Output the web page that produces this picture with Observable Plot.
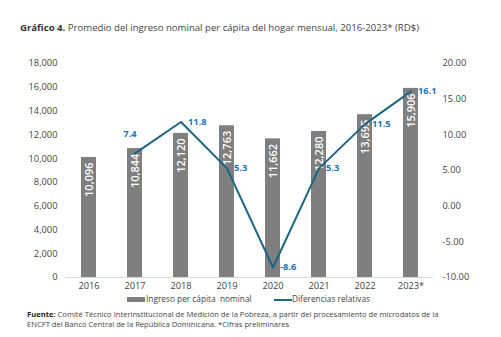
<!DOCTYPE html>
<html><head><meta charset="utf-8">
<script src="https://cdn.jsdelivr.net/npm/d3@7"></script>
<script src="https://cdn.jsdelivr.net/npm/@observablehq/plot@0.6"></script>
<style>
body{margin:0;background:#fff;font-family:"Open Sans",sans-serif;width:501px;height:337px;overflow:hidden;position:relative}
#title{position:absolute;left:20px;top:21px;font-size:9.6px;color:#444;white-space:nowrap}
#chart{position:absolute;left:0;top:50px}
#legend{position:absolute;top:293px;left:0;width:501px;font-size:8.3px;color:#444}
#legend span{position:absolute;white-space:nowrap}
#foot{position:absolute;left:27px;top:309px;font-size:7.6px;line-height:10px;color:#444}
</style></head><body>
<div id="title"><b style="color:#333">Gráfico 4.</b> Promedio del ingreso nominal per cápita del hogar mensual, 2016-2023* (RD$)</div>
<div id="chart"></div>
<div id="legend">
<span style="left:127px;top:4px;width:18px;height:5px;background:#7f7f7f"></span>
<span style="left:146px;top:0">Ingreso per cápita &nbsp;nominal</span>
<span style="left:274px;top:6px;width:18px;height:2px;background:#1d6a85"></span>
<span style="left:292px;top:0">Diferencias relativas</span>
</div>
<div id="foot"><b style="color:#222">Fuente:</b> Comité Técnico Interinstitucional de Medición de la Pobreza, a partir del procesamiento de microdatos de la<br>ENCFT del Banco Central de la República Dominicana. *Cifras preliminares</div>
<script>
const years = ["2016","2017","2018","2019","2020","2021","2022","2023*"];
const ingreso = [10096,10844,12120,12763,11662,12280,13695,15906];
const diferencias = [null,7.4,11.8,5.3,-8.6,5.3,11.5,16.1];
const leftTicks = [0,2000,4000,6000,8000,10000,12000,14000,16000,18000];
const rightTicks = [-10,-5,0,5,10,15,20];

const toY = v => (v + 10) / 30 * 18000;
const fromY = y => y / 18000 * 30 - 10;

const bars = years.map((y,i)=>({year:y, value:ingreso[i]}));
const line = years.map((y,i)=>({year:y, d:diferencias[i]})).filter(d=>d.d!==null);
const labAbove = line.filter(d => d.year === "2017");
const labRight = line.filter(d => d.year !== "2017");

const plot = Plot.plot({
  width: 501, height: 245,
  marginTop: 13, marginBottom: 18, marginLeft: 65, marginRight: 68,
  style: {fontFamily: "Open Sans, sans-serif", fontSize: "9.3px", color: "#444"},
  x: {domain: years, paddingInner: 0.68, paddingOuter: 0.34, label: null},
  y: {domain: [0,18000], label: null},
  marks: [
    Plot.axisX({tickSize: 0, tickPadding: 5, label: null}),
    Plot.axisY({anchor: "left", ticks: leftTicks, tickSize: 0, tickPadding: 8, tickFormat: d3.format(","), label: null}),
    Plot.axisY({anchor: "right", ticks: rightTicks.map(toY), tickSize: 0, tickPadding: 9, tickFormat: y => fromY(y).toFixed(2), label: null}),
    Plot.barY(bars, {x: "year", y: "value", fill: "#7f7f7f"}),
    Plot.ruleY([0], {stroke: "#d9d9d9"}),
    Plot.text(bars, {x: "year", y: "value", text: d => d3.format(",")(d.value), rotate: -90, textAnchor: "end", dy: 5, fill: "white", fontSize: 11, fontWeight: 600, lineAnchor: "middle"}),
    Plot.line(line, {x: "year", y: d => toY(d.d), stroke: "#1b6683", strokeWidth: 2}),
    Plot.text(labAbove, {x: "year", y: d => toY(d.d), text: d => d.d.toFixed(1), textAnchor: "middle", dx: -5, dy: -19, fill: "#1a73b8", fontWeight: 700, fontSize: 9.3}),
    Plot.text(labRight, {x: "year", y: d => toY(d.d), text: d => d.d.toFixed(1), textAnchor: "start", dx: 7, fill: "#1a73b8", fontWeight: 700, fontSize: 9.3})
  ]
});
document.getElementById("chart").appendChild(plot);
</script>
</body></html>
